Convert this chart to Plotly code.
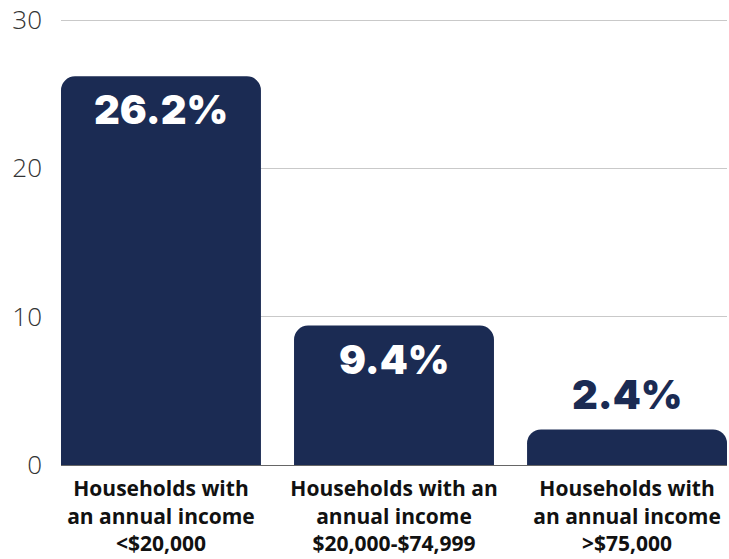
import plotly.graph_objects as go

categories = [
    "Households with<br>an annual income<br>&lt;$20,000",
    "Households with an<br>annual income<br>$20,000-$74,999",
    "Households with<br>an annual income<br>&gt;$75,000",
]
values = [26.2, 9.4, 2.4]
y_ticks = [0, 10, 20, 30]

NAVY = "#1b2b53"
x_pos = list(range(len(values)))

fig = go.Figure(
    go.Bar(
        x=x_pos,
        y=values,
        width=0.858,
        marker=dict(color=NAVY, line=dict(width=0)),
        hoverinfo="skip",
    )
)

# value labels: inside the bar top for tall bars, above the bar for the short one
for i, v in enumerate(values):
    inside = v > 5
    fig.add_annotation(
        x=i,
        y=v,
        text=f"{v:.1f}%",
        showarrow=False,
        yanchor="top" if inside else "bottom",
        yshift=-7 if inside else 8,
        font=dict(family="Inter", size=40, weight=900,
                  color="white" if inside else NAVY),
    )

fig.update_layout(
    width=729,
    height=559,
    margin=dict(l=61, r=2, t=16, b=94, autoexpand=False),
    paper_bgcolor="white",
    plot_bgcolor="white",
    barcornerradius=14,
    showlegend=False,
    xaxis=dict(
        range=[-0.429, 2.429],
        tickmode="array",
        tickvals=x_pos,
        ticktext=categories,
        showgrid=False,
        showline=True,
        linecolor="#666666",
        linewidth=1,
        ticks="",
        ticklabelstandoff=5,
        automargin=False,
        tickfont=dict(family="Open Sans", size=21, weight=700, color="#111111"),
        fixedrange=True,
    ),
    yaxis=dict(
        range=[0, 30.27],
        tickmode="array",
        tickvals=y_ticks,
        showgrid=True,
        gridcolor="#c9c9c9",
        gridwidth=1,
        zeroline=False,
        showline=False,
        ticks="",
        ticklabelstandoff=18,
        automargin=False,
        tickfont=dict(family="Open Sans", size=26, weight=300, color="#333333"),
        fixedrange=True,
    ),
)

fig.write_html("out.html")
